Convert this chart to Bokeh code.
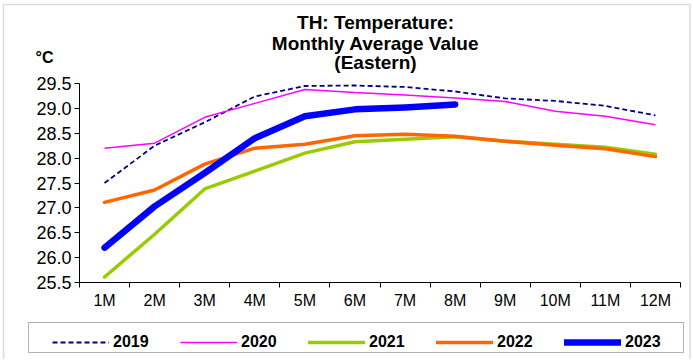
from bokeh.plotting import figure
from bokeh.models import (FixedTicker, Legend, LegendItem, Label, Range1d, LinearAxis,
                          NumeralTickFormatter, BoxAnnotation)
from bokeh.embed import file_html
from bokeh.resources import INLINE

# ---- data ----
months = ["1M", "2M", "3M", "4M", "5M", "6M", "7M", "8M", "9M", "10M", "11M", "12M"]
t2019 = [27.50, 28.25, 28.72, 29.24, 29.45, 29.46, 29.43, 29.34, 29.20, 29.15, 29.05, 28.86]
t2020 = [28.20, 28.30, 28.82, 29.10, 29.38, 29.32, 29.27, 29.21, 29.14, 28.94, 28.84, 28.67]
t2021 = [25.61, 26.47, 27.38, 27.74, 28.10, 28.33, 28.38, 28.43, 28.34, 28.28, 28.22, 28.08]
t2022 = [27.11, 27.36, 27.88, 28.20, 28.28, 28.45, 28.48, 28.44, 28.34, 28.26, 28.19, 28.03]
t2023 = [26.20, 27.03, 27.70, 28.40, 28.84, 28.98, 29.02, 29.08]
y_ticks = [25.5, 26.0, 26.5, 27.0, 27.5, 28.0, 28.5, 29.0, 29.5]
title_lines = ["TH: Temperature:", "Monthly Average Value", "(Eastern)"]
unit_label = "\u00b0C"

FONT = "Liberation Sans"
W, H = 691, 359

# layout of the plotting area inside the canvas (pixels)
AX_L, AX_R, AX_T, AX_B = 79, 680, 83, 282
y_lo, y_hi = y_ticks[0], y_ticks[-1]
x_lo, x_hi = 0.5, len(months) + 0.5
sx = (AX_R - AX_L) / (x_hi - x_lo)
sy = (AX_B - AX_T) / (y_hi - y_lo)

xs = list(range(1, len(months) + 1))
bounds_x = [x - 0.5 for x in xs] + [len(xs) + 0.5]

p = figure(width=W, height=H, output_backend="svg", toolbar_location=None,
           x_range=Range1d(x_lo - AX_L / sx, x_hi + (W - AX_R) / sx),
           y_range=Range1d(y_lo - (H - AX_B) / sy, y_hi + AX_T / sy),
           min_border=0, min_border_left=0, min_border_right=0,
           min_border_top=0, min_border_bottom=0)
p.outline_line_color = None
p.xgrid.grid_line_color = None
p.ygrid.grid_line_color = None
p.background_fill_color = "white"
p.border_fill_color = "white"

# x axis line with ticks at category boundaries (no labels)
xa = p.xaxis[0]
xa.fixed_location = y_lo
xa.bounds = (x_lo, x_hi)
xa.ticker = FixedTicker(ticks=bounds_x)
xa.major_label_overrides = {b: "" for b in bounds_x}
xa.major_tick_out = 5
xa.major_tick_in = 0
xa.minor_tick_out = 0
xa.minor_tick_in = 0
xa.major_tick_line_color = "black"
xa.axis_line_color = "black"

# month labels at category centres
xl = LinearAxis(fixed_location=y_lo, ticker=FixedTicker(ticks=xs),
                major_label_overrides={x: m for x, m in zip(xs, months)},
                major_tick_out=0, major_tick_in=0, minor_tick_out=0, minor_tick_in=0,
                major_tick_line_color=None, minor_tick_line_color=None,
                axis_line_color=None, major_label_standoff=9,
                major_label_text_font=FONT, major_label_text_font_size="16px",
                major_label_text_color="black")
p.add_layout(xl, "below")

ya = p.yaxis[0]
ya.fixed_location = x_lo
ya.bounds = (y_lo, y_hi)
ya.ticker = FixedTicker(ticks=y_ticks)
ya.formatter = NumeralTickFormatter(format="0.0")
ya.major_tick_out = 5
ya.major_tick_in = 0
ya.minor_tick_out = 0
ya.minor_tick_in = 0
ya.axis_line_color = "black"
ya.major_tick_line_color = "black"
ya.major_label_standoff = 3
ya.major_label_text_font = FONT
ya.major_label_text_font_size = "18px"
ya.major_label_text_color = "black"

r19 = p.line(xs, t2019, line_color="#000080", line_width=1.8, line_dash="5 3")
r20 = p.line(xs, t2020, line_color="#FF00FF", line_width=1.5)
r21 = p.line(xs, t2021, line_color="#99CC00", line_width=3.5, line_cap="round", line_join="round")
r22 = p.line(xs, t2022, line_color="#FF6600", line_width=3.5, line_cap="round", line_join="round")
r23 = p.line(xs[:len(t2023)], t2023, line_color="#0000FF", line_width=6.5, line_cap="round", line_join="round")

# legend frame
p.add_layout(BoxAnnotation(left=28, right=683, bottom=H - 352, top=H - 322,
                           left_units="screen", right_units="screen",
                           bottom_units="screen", top_units="screen",
                           fill_color="white", fill_alpha=1,
                           line_color="black", line_width=1))

legend = Legend(items=[LegendItem(label="2019", renderers=[r19]),
                       LegendItem(label="2020", renderers=[r20]),
                       LegendItem(label="2021", renderers=[r21]),
                       LegendItem(label="2022", renderers=[r22]),
                       LegendItem(label="2023", renderers=[r23])],
                orientation="horizontal", location=(52, H - 352),
                padding=5, spacing=27, margin=0,
                glyph_width=57, glyph_height=16, label_standoff=4, label_width=40,
                label_height=20,
                label_text_font=FONT, label_text_font_size="16px",
                label_text_font_style="bold", label_text_color="black",
                border_line_color=None, background_fill_alpha=0)
p.add_layout(legend)

for txt, yy in zip(title_lines, [22, 42.5, 62]):
    p.add_layout(Label(x=375, y=H - yy, x_units="screen", y_units="screen", text=txt,
                       text_align="center", text_baseline="middle",
                       text_font=FONT, text_font_size="19px", text_font_style="bold",
                       text_color="black"))

p.add_layout(Label(x=44, y=H - 57, x_units="screen", y_units="screen", text=unit_label,
                   text_align="center", text_baseline="middle",
                   text_font=FONT, text_font_size="16px", text_font_style="bold",
                   text_color="black"))

# outer chart border
p.add_layout(BoxAnnotation(left=3, right=689.5, bottom=-10, top=H - 4,
                           left_units="screen", right_units="screen",
                           bottom_units="screen", top_units="screen",
                           fill_alpha=0, line_color="#8c8c8c", line_width=1.5))

open("out.html", "w").write(file_html(p, INLINE))
